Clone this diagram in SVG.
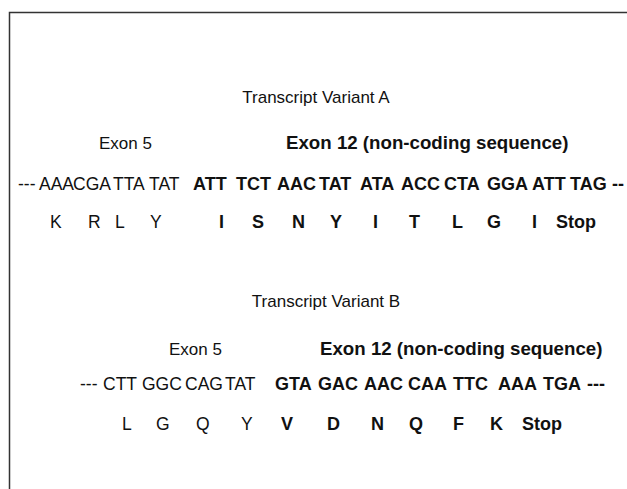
<svg xmlns="http://www.w3.org/2000/svg" width="627" height="489" viewBox="0 0 627 489">
<style>
text{font-family:"Liberation Sans",Arial,sans-serif;font-size:17.5px;fill:#111}
.t{font-size:17px}
.h{font-weight:bold;font-size:18.7px}
.b{font-weight:bold;font-size:18px}
.frame{stroke:#333;stroke-width:1.5;fill:none}
</style>
<rect x="0" y="0" width="627" height="489" fill="#fff"/>
<g id="frame"><path class="frame" d="M9.5 489V12.5H627"/></g>
<g id="variantA">
<text class="t" x="316" y="103" text-anchor="middle">Transcript Variant A</text>
<text class="t" x="99" y="149">Exon 5</text>
<text class="h" x="286" y="149">Exon 12 (non-coding sequence)</text>
<g id="seqA">
<text x="18" y="190">---</text>
<text x="39" y="190">AAA</text>
<text x="73" y="190">CGA</text>
<text x="113" y="190">TTA</text>
<text x="149" y="190">TAT</text>
<text class="b" x="193" y="190">ATT</text>
<text class="b" x="236" y="190">TCT</text>
<text class="b" x="277" y="190">AAC</text>
<text class="b" x="319" y="190">TAT</text>
<text class="b" x="360" y="190">ATA</text>
<text class="b" x="401" y="190">ACC</text>
<text class="b" x="444" y="190">CTA</text>
<text class="b" x="487" y="190">GGA</text>
<text class="b" x="532" y="190">ATT</text>
<text class="b" x="570" y="190">TAG</text>
<text class="b" x="612" y="190">--</text>
</g>
<g id="aaA">
<text x="50" y="228">K</text>
<text x="88" y="228">R</text>
<text x="115" y="228">L</text>
<text x="150" y="228">Y</text>
<text class="b" x="219" y="228">I</text>
<text class="b" x="252" y="228">S</text>
<text class="b" x="292" y="228">N</text>
<text class="b" x="330" y="228">Y</text>
<text class="b" x="373" y="228">I</text>
<text class="b" x="409" y="228">T</text>
<text class="b" x="452" y="228">L</text>
<text class="b" x="487" y="228">G</text>
<text class="b" x="532" y="228">I</text>
<text class="b" x="556" y="228">Stop</text>
</g>
</g>
<g id="variantB">
<text class="t" x="326" y="307" text-anchor="middle">Transcript Variant B</text>
<text class="t" x="169" y="355">Exon 5</text>
<text class="h" x="320" y="355">Exon 12 (non-coding sequence)</text>
<g id="seqB">
<text x="80" y="390">---</text>
<text x="103" y="390">CTT</text>
<text x="142" y="390">GGC</text>
<text x="185" y="390">CAG</text>
<text x="225" y="390">TAT</text>
<text class="b" x="275" y="390">GTA</text>
<text class="b" x="318" y="390">GAC</text>
<text class="b" x="364" y="390">AAC</text>
<text class="b" x="408" y="390">CAA</text>
<text class="b" x="453" y="390">TTC</text>
<text class="b" x="498" y="390">AAA</text>
<text class="b" x="543" y="390">TGA</text>
<text class="b" x="587" y="390">---</text>
</g>
<g id="aaB">
<text x="122" y="430">L</text>
<text x="156" y="430">G</text>
<text x="196" y="430">Q</text>
<text x="241" y="430">Y</text>
<text class="b" x="281" y="430">V</text>
<text class="b" x="327" y="430">D</text>
<text class="b" x="371" y="430">N</text>
<text class="b" x="409" y="430">Q</text>
<text class="b" x="453" y="430">F</text>
<text class="b" x="490" y="430">K</text>
<text class="b" x="522" y="430">Stop</text>
</g>
</g>
</svg>
